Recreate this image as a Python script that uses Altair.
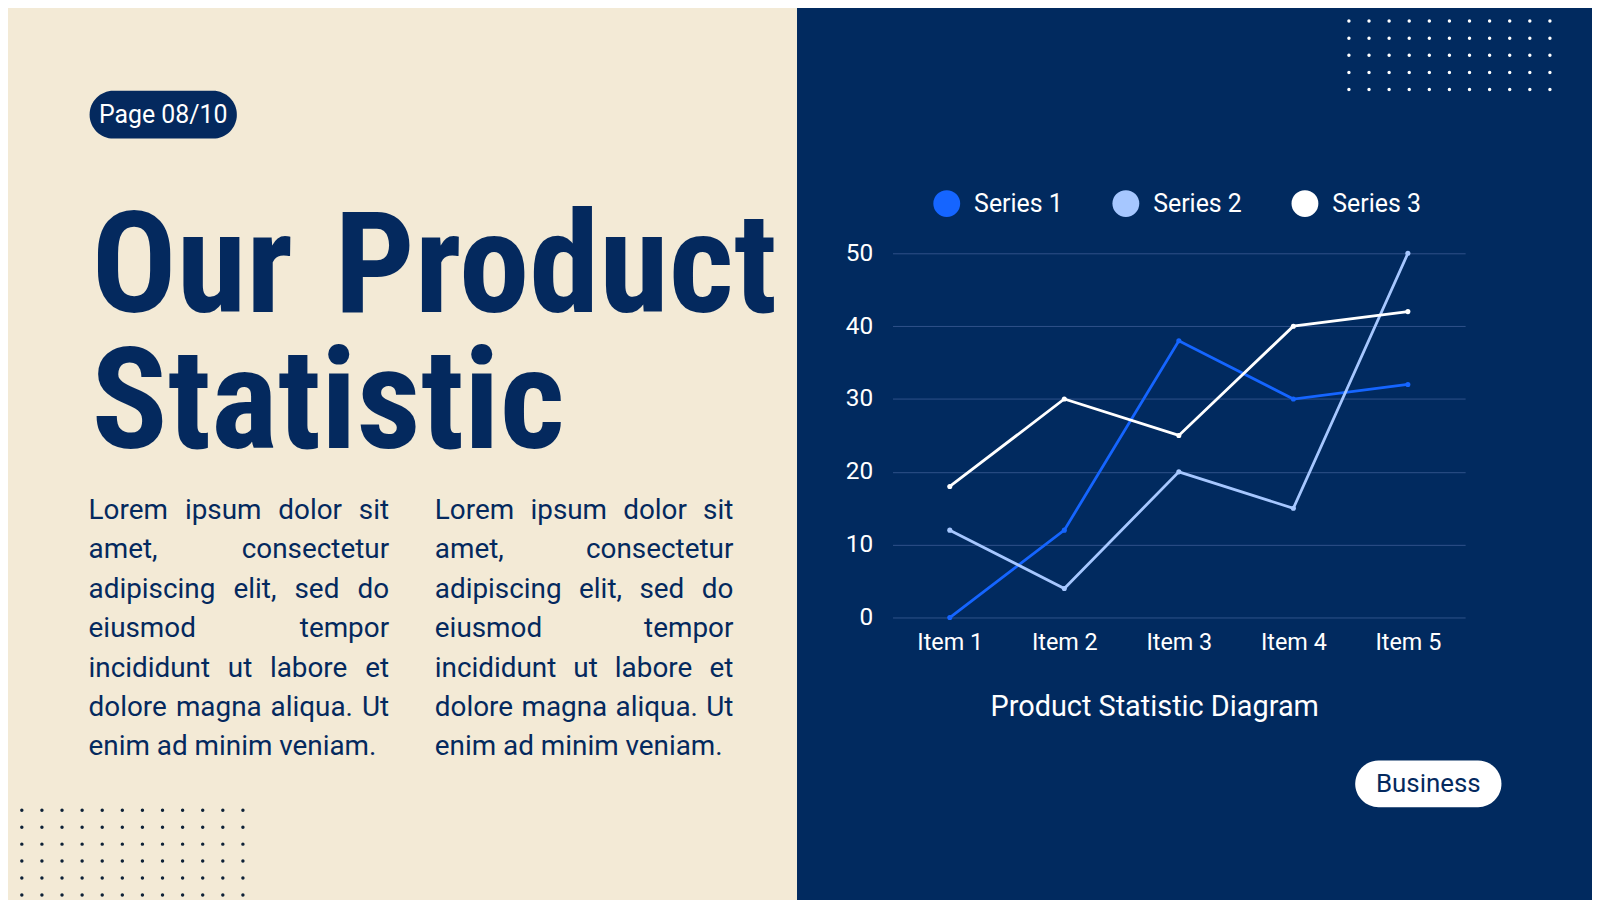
import altair as alt
import pandas as pd

# ---------------- data ----------------
items = ["Item 1", "Item 2", "Item 3", "Item 4", "Item 5"]
series_names = ["Series 1", "Series 2", "Series 3"]
series1 = [0, 12, 38, 30, 32]
series2 = [12, 4, 20, 15, 50]
series3 = [18, 30, 25, 40, 42]
series_colors = ["#1565FF", "#A6C7FF", "#FFFFFF"]
y_ticks = [0, 10, 20, 30, 40, 50]

page_label = "Page 08/10"
title_line1 = ["Our", "Product"]
title_line2 = "Statistic"
chart_caption = "Product Statistic Diagram"
tag_label = "Business"
paragraph = [
    "Lorem ipsum dolor sit",
    "amet, consectetur",
    "adipiscing elit, sed do",
    "eiusmod tempor",
    "incididunt ut labore et",
    "dolore magna aliqua. Ut",
    "enim ad minim veniam.",
]

# ---------------- style / layout ----------------
NAVY = "#012A5F"
TEXT_NAVY = "#04295E"
BEIGE = "#F3EAD6"
GRID = "#2F5289"
DOT_DARK = "#0E2238"
BODY_FONT = "Roboto"
TITLE_FONT = "Roboto Condensed"
TITLE_SIZE = 142

TOTAL_W, TOTAL_H = 1592, 892
PL = 897 - 8
PT = 252.3 - 8
PW = 1472.5 - 897
PH = 618.4 - 252.3


def X(x):
    return x - 8 - PL


def Y(y):
    return y - 8 - PT


ONE = pd.DataFrame({"k": [0]})


def rect(x0, x1, y0, y1, color, r=0):
    return alt.Chart(ONE).mark_rect(color=color, cornerRadius=r).encode(
        x=alt.value(X(x0)), x2=alt.value(X(x1)), y=alt.value(Y(y0)), y2=alt.value(Y(y1))
    )


def label(text, x, y, size, color, font=BODY_FONT, weight="normal", align="left", baseline="alphabetic"):
    return alt.Chart(ONE).mark_text(
        text=text, font=font, fontSize=size, fontWeight=weight, color=color, align=align, baseline=baseline
    ).encode(x=alt.value(X(x)), y=alt.value(Y(y)))


# decorative dot grids
tr = pd.DataFrame(
    [{"px": X(1355.7 + 20.2 * i), "py": Y(1.7 + 17.2 * j)} for i in range(11) for j in range(6)]
)
bl = pd.DataFrame(
    [{"px": X(1.7 + 20.2 * i), "py": Y(812 + 17.05 * j)} for i in range(13) for j in range(6)]
)


def dots(df, color):
    return alt.Chart(df).mark_circle(size=12, color=color, opacity=1).encode(
        x=alt.X("px:Q", scale=None, axis=None), y=alt.Y("py:Q", scale=None, axis=None)
    )


# justified body text (word placement from approximate Roboto advance widths)
RW = {" ": .248, "a": .544, "b": .561, "c": .523, "d": .564, "e": .530, "f": .347, "g": .561,
      "h": .551, "i": .243, "l": .243, "m": .876, "n": .552, "o": .570, "p": .561, "q": .565,
      "r": .338, "s": .516, "t": .327, "u": .551, "v": .484, "L": .538, "U": .652, ",": .196, ".": .263}
BODY_SIZE = 28


def word_w(w):
    return sum(RW.get(ch, .55) for ch in w) * BODY_SIZE


left_words, right_words = [], []
for x0, x1 in [(89, 391), (437, 737)]:
    for i, line in enumerate(paragraph):
        yy = Y(519.3 + i * 39.6)
        words = line.split()
        if i == len(paragraph) - 1:
            left_words.append({"w": line, "px": X(x0), "py": yy})
            continue
        widths = [word_w(w) for w in words]
        gap = ((x1 - x0) - sum(widths)) / (len(words) - 1)
        cur = x0
        for k, w in enumerate(words):
            if k == len(words) - 1:
                right_words.append({"w": w, "px": X(x1), "py": yy})
            else:
                left_words.append({"w": w, "px": X(cur), "py": yy})
            cur += widths[k] + gap


def words_layer(rows, align):
    return alt.Chart(pd.DataFrame(rows)).mark_text(
        font=BODY_FONT, fontSize=BODY_SIZE, color=TEXT_NAVY, align=align, baseline="alphabetic"
    ).encode(
        x=alt.X("px:Q", scale=None, axis=None),
        y=alt.Y("py:Q", scale=None, axis=None),
        text="w:N",
    )


# ---------------- main line chart ----------------
df = pd.DataFrame(
    [
        {"item": it, "series": s, "value": v}
        for s, vals in zip(series_names, [series1, series2, series3])
        for it, v in zip(items, vals)
    ]
)

x_enc = alt.X(
    "item:N",
    sort=items,
    scale=alt.Scale(type="point", padding=0.5),
    axis=alt.Axis(
        title=chart_caption,
        labelFont=BODY_FONT,
        labelFontSize=23.5,
        labelColor="white",
        labelAngle=0,
        labelBaseline="middle",
        labelPadding=24.6,
        domain=False,
        ticks=False,
        tickSize=0,
        grid=False,
        titleFont=BODY_FONT,
        titleFontSize=29,
        titleFontWeight="normal",
        titleColor="white",
        titleX=1160 - 897,
        titleY=708 - 618.4,
        titleAlign="center",
        titleBaseline="middle",
    ),
)
y_enc = alt.Y(
    "value:Q",
    scale=alt.Scale(domain=[0, 50], nice=False),
    axis=alt.Axis(
        values=y_ticks,
        title=None,
        labelFont=BODY_FONT,
        labelFontSize=24.5,
        labelColor="white",
        labelPadding=20,
        domain=False,
        ticks=False,
        tickSize=0,
        grid=True,
        gridColor=GRID,
        gridWidth=1,
    ),
)
color_scale = alt.Scale(domain=series_names, range=series_colors)

pts = alt.Chart(df).mark_circle(size=26, opacity=1).encode(
    x=x_enc,
    y=y_enc,
    color=alt.Color(
        "series:N",
        scale=color_scale,
        legend=alt.Legend(
            orient="none",
            legendX=X(938),
            legendY=Y(188.8),
            direction="horizontal",
            title=None,
            symbolType="circle",
            symbolSize=729,
            symbolStrokeWidth=0,
            symbolOpacity=1,
            labelFont=BODY_FONT,
            labelFontSize=25,
            labelColor="white",
            labelOffset=14,
            columnPadding=49,
            padding=0,
        ),
    ),
)
lines = alt.Chart(df).mark_line(strokeWidth=2.8).encode(
    x=x_enc, y=y_enc, color=alt.Color("series:N", scale=color_scale, legend=None)
)

layers = [
    rect(0, 801, 0, 950, BEIGE),
    dots(tr, "white"),
    dots(bl, DOT_DARK),
    rect(90, 238, 89, 137, TEXT_NAVY, 24),
    label(page_label, 164, 113, 25, "white", align="center", baseline="middle"),
    label(title_line1[0], 92, 311.7, TITLE_SIZE, TEXT_NAVY, font=TITLE_FONT, weight="bold"),
    label(title_line1[1], 781, 311.7, TITLE_SIZE, TEXT_NAVY, font=TITLE_FONT, weight="bold", align="right"),
    label(title_line2, 92, 448, TITLE_SIZE, TEXT_NAVY, font=TITLE_FONT, weight="bold"),
    words_layer(left_words, "left"),
    words_layer(right_words, "right"),
    rect(1362, 1509, 762, 809, "white", 23.5),
    label(tag_label, 1435.5, 786, 26, TEXT_NAVY, align="center", baseline="middle"),
    pts,
    lines,
]

chart = (
    alt.layer(*layers)
    .properties(
        width=PW,
        height=PH,
        padding={"left": PL, "top": PT, "right": TOTAL_W - PL - PW, "bottom": TOTAL_H - PT - PH},
        autosize=alt.AutoSizeParams(type="none"),
        background=NAVY,
    )
    .configure_view(strokeWidth=0)
)

chart.save("out.html", embed_options={"renderer": "svg", "actions": False})
